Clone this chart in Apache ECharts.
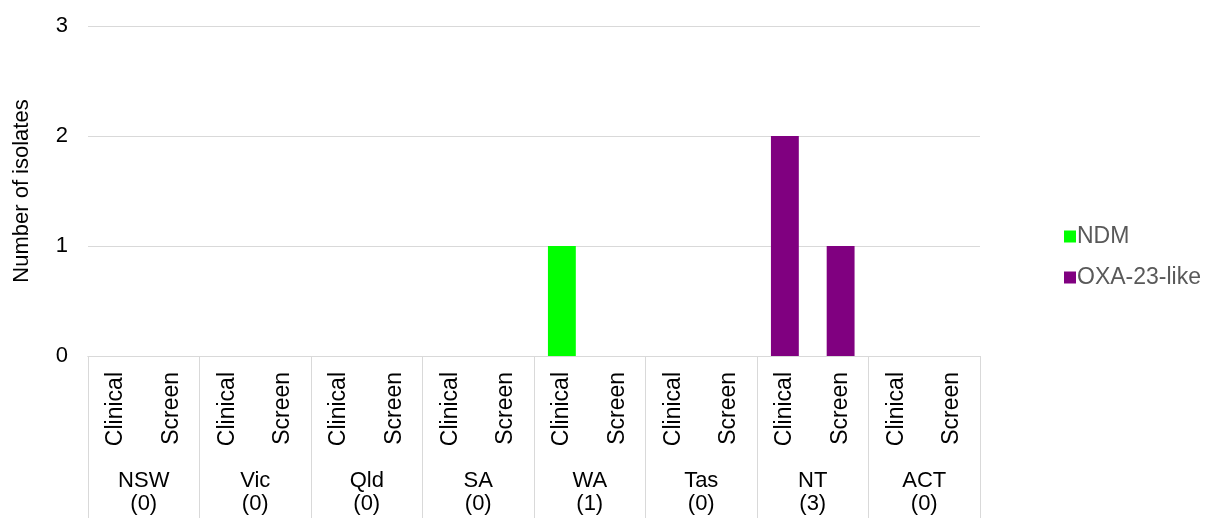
<!DOCTYPE html>
<html>
<head>
<meta charset="utf-8">
<script src="https://cdn.jsdelivr.net/npm/echarts@6/dist/echarts.min.js"></script>
<style>html,body{margin:0;padding:0;background:#fff;}#c{width:1209px;height:518px;}</style>
</head>
<body>
<div id="c"></div>
<script>
var states = ['NSW', 'Vic', 'Qld', 'SA', 'WA', 'Tas', 'NT', 'ACT'];
var stateTotals = [0, 0, 0, 0, 1, 0, 3, 0];
var sampleTypes = ['Clinical', 'Screen'];
var ndm = [0, 0, 0, 0, 0, 0, 0, 0, 1, 0, 0, 0, 0, 0, 0, 0];
var oxa23 = [0, 0, 0, 0, 0, 0, 0, 0, 0, 0, 0, 0, 2, 1, 0, 0];
var yTicks = [0, 1, 2, 3];

var cats = [];
states.forEach(function (s) { sampleTypes.forEach(function (t) { cats.push(s + '|' + t); }); });
var groupLabels = states.map(function (s, i) { return s + '\n(' + stateTotals[i] + ')'; });

var chart = echarts.init(document.getElementById('c'));
var font = 'Arial, "Liberation Sans", sans-serif';
chart.setOption({
  animation: false,
  grid: { left: 88, right: 229, top: 26, bottom: 162, containLabel: false, outerBoundsMode: 'none' },
  legend: {
    orient: 'vertical', left: 1059, top: 220, itemWidth: 12, itemHeight: 12, itemGap: 18,
    icon: 'rect',
    textStyle: { color: '#595959', fontSize: 23, fontFamily: font, padding: [0, 0, 0, -4] },
    data: ['NDM', 'OXA-23-like']
  },
  xAxis: [
    {
      type: 'category', data: cats, position: 'bottom',
      axisLine: { show: true, lineStyle: { color: '#d9d9d9', width: 1 } },
      axisTick: { show: false },
      axisLabel: {
        interval: 0, rotate: 90, margin: 16, color: '#000', fontSize: 23, fontFamily: font,
        formatter: function (v) { return v.split('|')[1]; }
      }
    },
    {
      type: 'category', data: groupLabels, position: 'bottom',
      axisLine: { show: true, lineStyle: { color: '#d9d9d9', width: 1 } },
      axisTick: { show: true, length: 162, lineStyle: { color: '#d9d9d9', width: 1 } },
      axisLabel: { interval: 0, margin: 113, color: '#000', fontSize: 22, lineHeight: 23, fontFamily: font }
    }
  ],
  yAxis: {
    type: 'value', min: 0, max: 3, interval: 1,
    name: 'Number of isolates', nameLocation: 'middle', nameGap: 55, nameRotate: 90,
    nameTextStyle: { color: '#000', fontSize: 22, fontFamily: font },
    axisLine: { show: false }, axisTick: { show: false },
    axisLabel: { color: '#000', fontSize: 22, fontFamily: font, margin: 20,
      formatter: function (v) { return yTicks.indexOf(v) >= 0 ? String(v) : ''; } },
    splitLine: { lineStyle: { color: '#d9d9d9', width: 1 } }
  },
  series: [
    { name: 'NDM', type: 'bar', stack: 'a', data: ndm, barWidth: '50%', itemStyle: { color: '#00ff00' }, xAxisIndex: 0 },
    { name: 'OXA-23-like', type: 'bar', stack: 'a', data: oxa23, barWidth: '50%', itemStyle: { color: '#800080' }, xAxisIndex: 0 }
  ]
});
</script>
</body>
</html>
